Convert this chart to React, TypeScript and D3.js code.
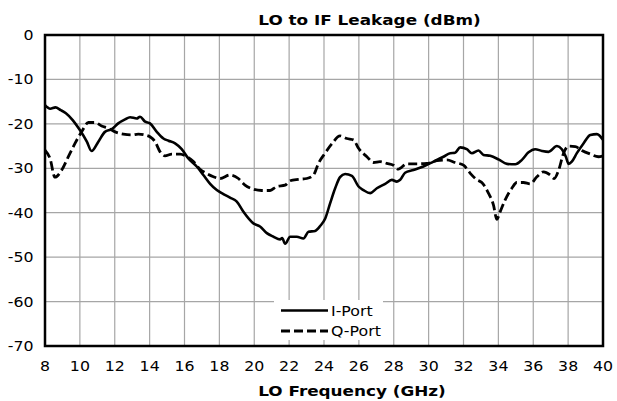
import React from "react";
import * as d3 from "d3";

const xTicks = [8, 10, 12, 14, 16, 18, 20, 22, 24, 26, 28, 30, 32, 34, 36, 38, 40];
const yTicks = [0, -10, -20, -30, -40, -50, -60, -70];

const iFreq = [8.0, 8.3, 8.6, 8.9, 9.2, 9.6, 10.0, 10.4, 10.67, 11.06, 11.44, 11.83, 12.2, 12.59, 12.88, 13.26, 13.45, 13.74, 14.02, 14.41, 14.79, 15.08, 15.46, 15.84, 16.22, 16.7, 17.08, 17.47, 17.85, 18.23, 18.61, 19.0, 19.38, 19.95, 20.33, 20.72, 21.1, 21.48, 21.6, 21.77, 22.06, 22.44, 22.82, 23.11, 23.49, 23.78, 24.07, 24.35, 24.64, 24.92, 25.21, 25.6, 25.98, 26.26, 26.65, 27.03, 27.51, 27.89, 28.18, 28.37, 28.65, 29.13, 29.7, 30.28, 30.85, 31.24, 31.52, 31.81, 32.19, 32.48, 32.86, 33.15, 33.53, 34.01, 34.49, 34.97, 35.35, 35.73, 36.11, 36.5, 36.88, 37.36, 37.64, 37.87, 38.03, 38.21, 38.5, 38.88, 39.27, 39.65, 40.0];
const iPort = [-15.8, -16.6, -16.3, -16.9, -17.6, -19.2, -21.4, -24.0, -26.1, -24.0, -21.8, -21.2, -19.9, -19.0, -18.5, -18.8, -18.4, -19.5, -19.9, -21.8, -23.3, -23.8, -24.4, -25.7, -27.8, -29.6, -31.5, -33.5, -34.9, -35.8, -36.6, -37.5, -39.8, -42.4, -43.1, -44.6, -45.4, -46.0, -45.7, -47.0, -45.4, -45.4, -45.8, -44.3, -44.1, -43.0, -41.3, -37.9, -34.5, -32.0, -31.3, -31.7, -34.1, -34.9, -35.6, -34.5, -33.5, -32.6, -33.0, -32.6, -31.0, -30.4, -29.6, -28.5, -27.4, -26.6, -26.5, -25.3, -25.7, -26.6, -26.0, -27.0, -27.2, -28.0, -29.0, -29.1, -28.1, -26.4, -25.7, -26.1, -26.3, -25.0, -25.7, -27.4, -29.0, -28.5, -26.6, -24.4, -22.5, -22.3, -23.6];

const qFreq = [8.0, 8.29, 8.57, 8.96, 9.34, 9.72, 10.1, 10.49, 10.87, 11.25, 11.64, 12.02, 12.49, 12.97, 13.35, 13.74, 14.02, 14.31, 14.6, 14.88, 15.27, 15.75, 16.13, 16.51, 16.89, 17.28, 17.66, 18.04, 18.61, 19.09, 19.47, 19.95, 20.43, 20.91, 21.29, 21.77, 22.06, 22.53, 23.01, 23.4, 23.68, 24.06, 24.45, 24.92, 25.31, 25.69, 25.98, 26.46, 26.84, 27.22, 27.6, 27.98, 28.27, 28.37, 28.75, 29.32, 29.9, 30.47, 31.04, 31.52, 32.0, 32.38, 32.77, 33.05, 33.43, 33.72, 33.91, 34.1, 34.39, 34.77, 35.06, 35.44, 35.83, 36.21, 36.59, 36.97, 37.2, 37.45, 37.74, 38.03, 38.41, 38.79, 39.27, 39.74, 40.0];
const qPort = [-25.9, -27.8, -32.0, -30.4, -27.4, -24.4, -21.8, -19.7, -19.7, -20.5, -21.0, -21.8, -22.3, -22.5, -22.3, -22.5, -22.9, -24.0, -26.3, -27.2, -26.8, -26.8, -27.4, -28.5, -30.2, -31.2, -31.9, -32.3, -31.5, -32.3, -33.8, -34.7, -35.0, -35.0, -34.1, -33.8, -32.8, -32.5, -32.3, -31.5, -28.9, -26.6, -24.5, -22.7, -23.3, -23.6, -25.5, -27.4, -28.7, -28.5, -28.9, -29.3, -30.2, -30.0, -29.0, -29.0, -28.9, -28.3, -28.1, -28.7, -29.3, -31.1, -32.6, -33.2, -35.6, -38.3, -41.5, -39.8, -37.1, -34.5, -33.2, -33.2, -33.5, -31.9, -30.8, -31.5, -32.3, -30.5, -26.6, -25.0, -25.1, -26.0, -26.8, -27.4, -27.2];

const seriesNames = ["I-Port", "Q-Port"];
const title = "LO to IF Leakage (dBm)";
const xLabel = "LO Frequency (GHz)";

const W = 617;
const H = 401;
const L = 45, R = 603, T = 35, B = 346;
const FONT = "'DejaVu Sans', Verdana, sans-serif";
const SX = 1.17; // horizontal stretch of regular text
const SXB = 1.22; // horizontal stretch of bold text
const DASH = "9,4";

export default function App() {
  const x = d3.scaleLinear().domain([8, 40]).range([L, R]);
  const y = d3.scaleLinear().domain([-70, 0]).range([B, T]);
  const line = d3
    .line<[number, number]>()
    .x((d) => x(d[0]))
    .y((d) => y(d[1]))
    .curve(d3.curveMonotoneX);
  const iData = iFreq.map((f, k) => [f, iPort[k]] as [number, number]);
  const qData = qFreq.map((f, k) => [f, qPort[k]] as [number, number]);

  const legX = 274, legY = 300, legW = 109, legH = 40;
  const legRows = [310.5, 331];

  return (
    <div style={{ position: "absolute", left: 0, top: 0 }}>
      <svg width={W} height={H} style={{ display: "block", background: "#fff" }}>
        <rect x={0} y={0} width={W} height={H} fill="#fff" />
        {xTicks.slice(1, -1).map((t) => (
          <line key={"gx" + t} x1={x(t)} x2={x(t)} y1={T} y2={B} stroke="#a6a6a6" strokeWidth={1.2} />
        ))}
        {yTicks.slice(1, -1).map((t) => (
          <line key={"gy" + t} x1={L} x2={R} y1={y(t)} y2={y(t)} stroke="#a6a6a6" strokeWidth={1.2} />
        ))}
        <path d={line(iData) || ""} fill="none" stroke="#000" strokeWidth={2.6} strokeLinejoin="round" />
        <path d={line(qData) || ""} fill="none" stroke="#000" strokeWidth={2.8} strokeDasharray={DASH} />
        <rect x={legX} y={legY} width={legW} height={legH} fill="#fff" />
        <line x1={281} x2={328} y1={legRows[0]} y2={legRows[0]} stroke="#000" strokeWidth={2.6} />
        <line x1={281} x2={328} y1={legRows[1]} y2={legRows[1]} stroke="#000" strokeWidth={2.8} strokeDasharray={DASH} />
        {seriesNames.map((n, k) => (
          <text
            key={n}
            transform={`translate(331,${legRows[k] + 5}) scale(${SX},1)`}
            fontFamily={FONT}
            fontSize={13.5}
            fill="#000"
          >
            {n}
          </text>
        ))}
        <rect x={L} y={T} width={R - L} height={B - T} fill="none" stroke="#000" strokeWidth={2.5} />
        {xTicks.map((t) => (
          <text
            key={"xl" + t}
            transform={`translate(${x(t)},370.5) scale(${SX},1)`}
            textAnchor="middle"
            fontFamily={FONT}
            fontSize={13.5}
            fill="#000"
          >
            {t}
          </text>
        ))}
        {yTicks.map((t) => (
          <text
            key={"yl" + t}
            transform={`translate(33.5,${y(t) + 5}) scale(${SX},1)`}
            textAnchor="end"
            fontFamily={FONT}
            fontSize={13.5}
            fill="#000"
          >
            {t}
          </text>
        ))}
        <text
          transform={`translate(369.5,24.5) scale(${SXB},1)`}
          textAnchor="middle"
          fontFamily={FONT}
          fontWeight="bold"
          fontSize={13.8}
          fill="#000"
        >
          {title}
        </text>
        <text
          transform={`translate(352,395.5) scale(${SXB},1)`}
          textAnchor="middle"
          fontFamily={FONT}
          fontWeight="bold"
          fontSize={13.8}
          fill="#000"
        >
          {xLabel}
        </text>
      </svg>
    </div>
  );
}
